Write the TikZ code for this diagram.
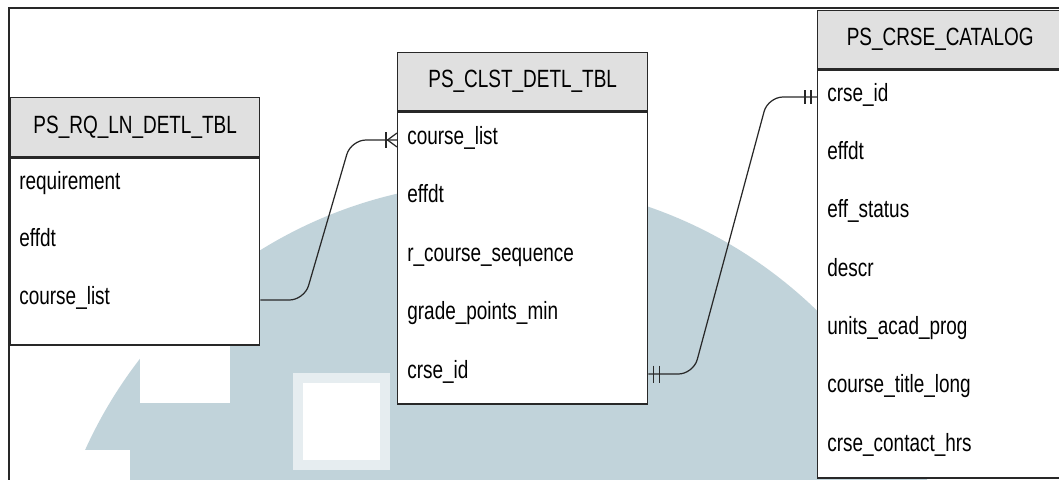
\documentclass[tikz,border=0pt]{standalone}
\usepackage{fontspec}
\newfontfamily\tblfont[FakeStretch=0.76]{Liberation Sans}
\definecolor{headgray}{RGB}{224,224,224}
\definecolor{linegray}{RGB}{40,40,40}
\definecolor{wmblue}{RGB}{193,211,218}
\tikzset{
  >=latex,
}
\tikzstyle{frame}=[line width=1.1pt,linegray]
\tikzstyle{tablehead}=[draw=linegray,fill=headgray,line width=0.8pt,inner sep=0pt,anchor=north west]
\tikzstyle{tablebody}=[draw=linegray,fill=white,line width=0.8pt,inner sep=0pt,anchor=north west]
\tikzstyle{field}=[anchor=west,inner sep=0pt,text height=0.75em,text depth=0.25em]
\tikzstyle{link}=[line width=0.7pt,linegray,rounded corners=0.3cm]
\tikzstyle{endmark}=[line width=0.7pt,linegray]
\tikzstyle{every node}=[font=\tblfont\fontsize{14.2}{17}\selectfont]

\begin{document}
\begin{tikzpicture}[x=0.02cm,y=-0.02cm]
        \useasboundingbox (0,0) rectangle (1059,480);
        % faded logo behind the tables
        \begin{scope}
          \clip (0,0) rectangle (1059,480);
          \fill[wmblue] (500,637) circle (455);
          \fill[white] (140,330) rectangle (230,403);
          \fill[white] (0,450) rectangle (130,480);
          \fill[wmblue!40] (293,373) rectangle (390,470);
          \fill[white] (303,383) rectangle (380,460);
        \end{scope}
        \draw[frame] (9,490) -- (9,8) -- (1070,8);

        % PS_RQ_LN_DETL_TBL
        \node[tablehead,minimum width=4.98cm,minimum height=1.18cm] (rqhead) at (10,97) {PS\_RQ\_LN\_DETL\_TBL};
        \node[tablebody,minimum width=4.98cm,minimum height=3.74cm] (rqbody) at (rqhead.south west) {};
        \foreach \f [count=\i] in {requirement,effdt,course\_list}
          \node[field] (rq\i) at (19,127.5+57.5*\i) {\f};

        % PS_CLST_DETL_TBL
        \node[tablehead,minimum width=5cm,minimum height=1.16cm] (clsthead) at (397,52) {PS\_CLST\_DETL\_TBL};
        \node[tablebody,minimum width=5cm,minimum height=5.84cm] (clstbody) at (clsthead.south west) {};
        \foreach \f [count=\i] in {course\_list,effdt,r\_course\_sequence,grade\_points\_min,crse\_id}
          \node[field] (clst\i) at (407,81.5+58.5*\i) {\f};

        % PS_CRSE_CATALOG
        \node[tablehead,minimum width=4.9cm,minimum height=1.16cm] (cathead) at (817,10) {PS\_CRSE\_CATALOG};
        \node[tablebody,minimum width=4.9cm,minimum height=8.16cm] (catbody) at (cathead.south west) {};
        \foreach \f [count=\i] in {crse\_id,effdt,eff\_status,descr,units\_acad\_prog,course\_title\_long,crse\_contact\_hrs}
          \node[field] (cat\i) at (827,38.7+58.3*\i) {\f};

        % relationships
        \coordinate (rqout) at (rqbody.east |- rq3);
        \coordinate (clstin) at (clstbody.west |- clst1);
        \coordinate (clstout) at (clstbody.east |- clst5);
        \coordinate (catin) at (catbody.west |- cat1);
        \draw[link] (rqout) -- ++(44,0) -- ([xshift=-0.92cm]clstin) -- (clstin);
        \draw[link] (clstout) -- ++(45,0) -- ([xshift=-0.98cm]catin) -- (catin);

        % one or many
        \draw[endmark] ([yshift=0.14cm]clstin) -- ([xshift=-0.19cm]clstin) -- ([yshift=-0.14cm]clstin);
        \draw[endmark] ([xshift=-0.22cm,yshift=0.16cm]clstin) -- ([xshift=-0.22cm,yshift=-0.16cm]clstin);
        % one and only one
        \foreach \d in {0.1cm,0.22cm}
          \draw[endmark] ([xshift=\d,yshift=0.17cm]clstout) -- ([xshift=\d,yshift=-0.17cm]clstout);
        \foreach \d in {0.12cm,0.24cm}
          \draw[endmark] ([xshift=-\d,yshift=0.14cm]catin) -- ([xshift=-\d,yshift=-0.14cm]catin);
      \end{tikzpicture}
\end{document}
